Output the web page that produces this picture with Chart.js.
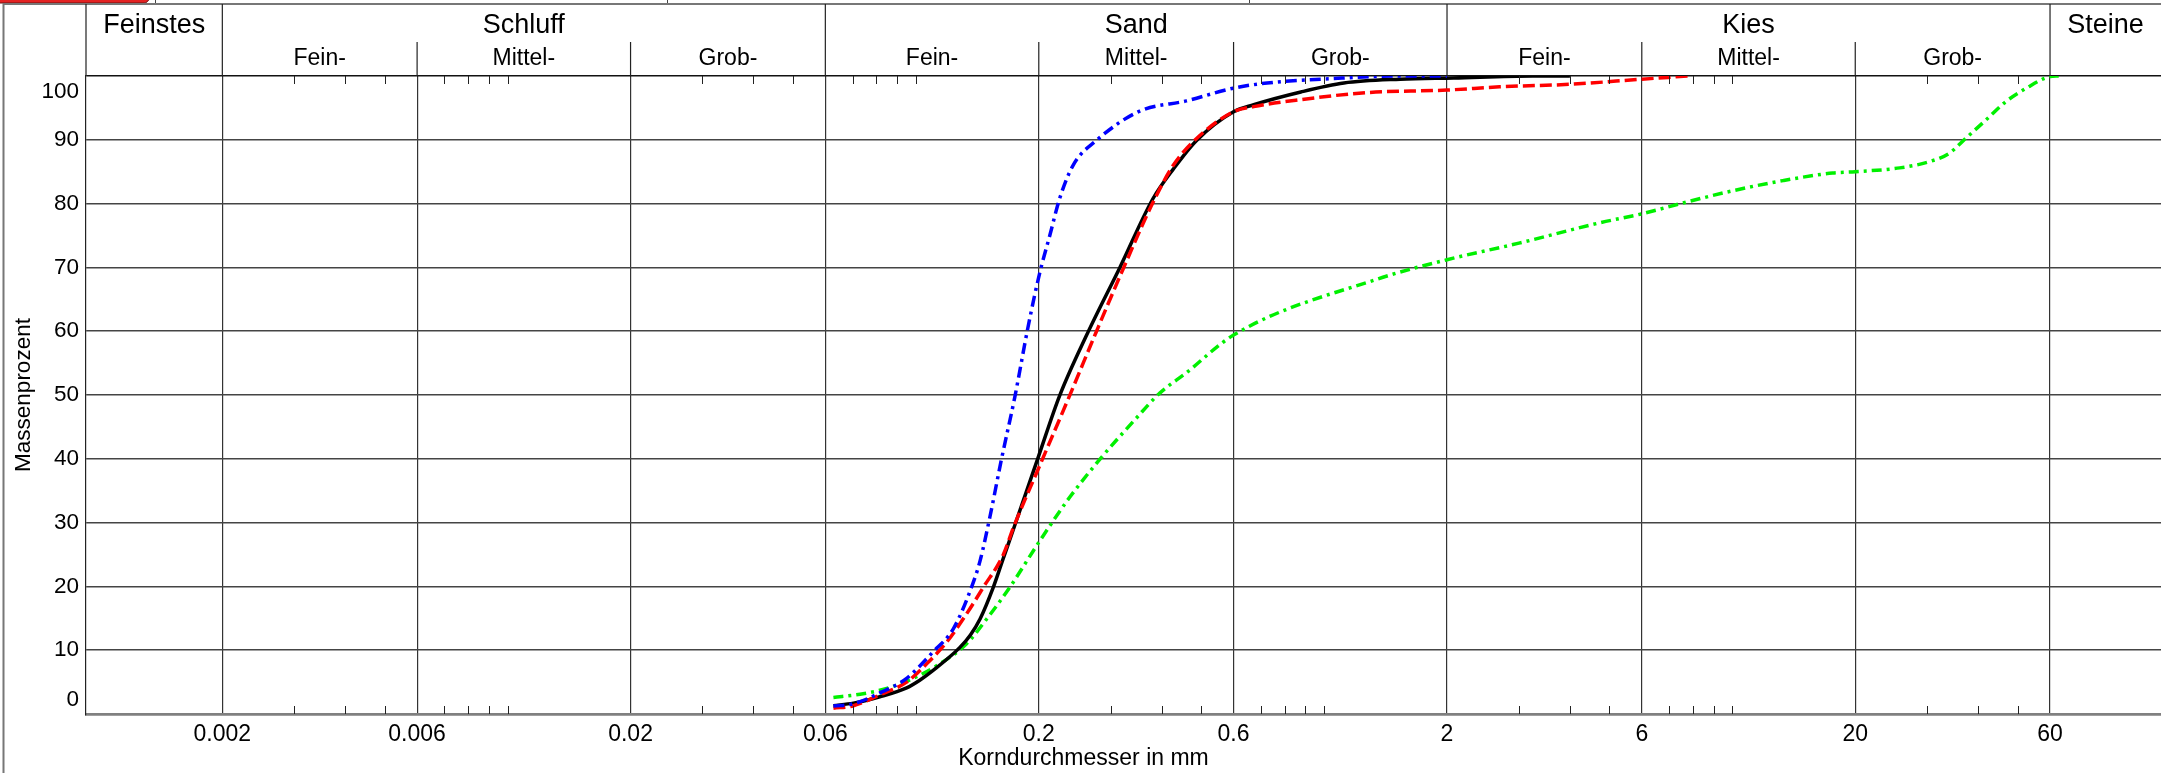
<!DOCTYPE html>
<html>
<head>
<meta charset="utf-8">
<title>Körnungslinie</title>
<script src="https://cdn.jsdelivr.net/npm/chart.js@4.4.0/dist/chart.umd.min.js"></script>
<style>
  html, body { margin: 0; padding: 0; background: #fff; }
  canvas { display: block; }
</style>
</head>
<body>
<canvas id="chart" width="2161" height="773"></canvas>
<script>
// grain size in mm / passing in %
const blackSize = [0.0628, 0.0703, 0.0816, 0.0949, 0.1022, 0.110, 0.128, 0.136, 0.1436, 0.1548, 0.1629, 0.173, 0.2, 0.225, 0.262, 0.316, 0.381, 0.427, 0.487, 0.6, 0.672, 0.877, 1.118, 1.536, 2.076, 3.24, 4.0];
const blackPass = [1.3, 1.7, 2.7, 4.1, 5.3, 6.8, 10.4, 12.4, 14.9, 19.9, 24, 28.8, 40.5, 49.9, 59.4, 70, 80.8, 85.4, 89.9, 94.4, 95.5, 97.5, 98.9, 99.5, 99.7, 100, 100];

const redSize = [0.0628, 0.0703, 0.0816, 0.0949, 0.1064, 0.1191, 0.1331, 0.1464, 0.1635, 0.174, 0.2, 0.238, 0.277, 0.322, 0.381, 0.427, 0.487, 0.6, 0.672, 0.877, 1.274, 2.0, 2.69, 4.0, 6.0, 7.8];
const redPass = [0.9, 1.3, 3.0, 5.0, 7.9, 11.3, 15.7, 19.9, 24.9, 29.5, 38.6, 49.9, 60, 69.8, 80.2, 86, 90.2, 94.4, 95.2, 96.3, 97.4, 97.8, 98.3, 98.7, 99.5, 100];

const blueSize = [0.0628, 0.0703, 0.0816, 0.0949, 0.110, 0.1236, 0.1369, 0.1436, 0.1517, 0.162, 0.1746, 0.1883, 0.201, 0.2128, 0.225, 0.2427, 0.2768, 0.3535, 0.46, 0.6, 0.725, 1.052, 1.536, 2.0];
const bluePass = [1.25, 1.6, 3.3, 5.6, 9.7, 13.4, 19.9, 24, 30.8, 39.9, 49.6, 60.7, 69.1, 75, 80.8, 86, 89.9, 94.5, 96.1, 98.1, 98.9, 99.6, 100, 100];

const greenSize = [0.0628, 0.073, 0.0848, 0.0986, 0.1146, 0.1331, 0.1491, 0.170, 0.2, 0.2383, 0.2821, 0.347, 0.3957, 0.46, 0.6, 1.355, 2.0, 3.0, 4.74, 6, 7.57, 10, 13.3, 17.6, 20, 25.7, 30.5, 34, 37.4, 41.8, 46.8, 52.5, 60, 63];
const greenPass = [2.6, 3.1, 4.0, 5.6, 7.9, 11.0, 14.9, 19.9, 26.9, 34, 39.9, 46.4, 50.3, 53.5, 59.4, 68.2, 71.2, 73.8, 77, 78.4, 80.1, 82, 83.6, 84.8, 85, 85.6, 86.6, 87.9, 90.3, 93.1, 96, 98.1, 99.9, 100];

// axis
const xTicks = [0.002, 0.006, 0.02, 0.06, 0.2, 0.6, 2, 6, 20, 60];
const xTickLabels = ['0.002', '0.006', '0.02', '0.06', '0.2', '0.6', '2', '6', '20', '60'];
const minorTicks = [0.003, 0.004, 0.005, 0.007, 0.008, 0.009, 0.01, 0.03, 0.04, 0.05, 0.07, 0.08, 0.09, 0.1,
                    0.3, 0.4, 0.5, 0.7, 0.8, 0.9, 1, 3, 4, 5, 7, 8, 9, 10, 30, 40, 50];
const yTicks = [0, 10, 20, 30, 40, 50, 60, 70, 80, 90, 100];

// soil classes (DIN 4022)
const mainBounds = [0.002, 0.06, 2, 60];
const subBounds = [0.006, 0.02, 0.2, 0.6, 6, 20];
const groups = ['Schluff', 'Sand', 'Kies'];
const subGroups = ['Fein-', 'Mittel-', 'Grob-'];

const FONT = '"Liberation Sans", Arial, sans-serif';

function pts(xs, ys) {
    return xs.map((x, i) => ({ x: x, y: ys[i] }));
}

const headerPlugin = {
    id: 'header',
    afterDraw(chart) {
        const ctx = chart.ctx;
        const xs = chart.scales.x;
        const ys = chart.scales.y;
        const a = chart.chartArea;
        const top = 4, subTop = 42;
        const px = v => xs.getPixelForValue(v);

        ctx.save();
        // window bits above the frame
        ctx.fillStyle = '#e32222';
        ctx.strokeStyle = '#6a1010';
        ctx.lineWidth = 1;
        ctx.beginPath();
        ctx.roundRect(-6, -12, 155, 15, 5);
        ctx.fill();
        ctx.stroke();
        ctx.strokeStyle = '#444';
        ctx.beginPath();
        [155.5, 667.5, 1249.5].forEach(x => { ctx.moveTo(x, 0); ctx.lineTo(x, top); });
        ctx.stroke();

        // outer frame
        ctx.strokeStyle = '#777';
        ctx.lineWidth = 2;
        ctx.beginPath();
        ctx.moveTo(3.5, chart.height);
        ctx.lineTo(3.5, top);
        ctx.lineTo(chart.width, top);
        ctx.stroke();

        // header grid
        ctx.strokeStyle = '#222';
        ctx.lineWidth = 1.2;
        ctx.beginPath();
        ctx.moveTo(a.left, top);
        ctx.lineTo(a.left, a.top);
        mainBounds.forEach(v => { ctx.moveTo(px(v), top); ctx.lineTo(px(v), a.top); });
        subBounds.forEach(v => { ctx.moveTo(px(v), subTop); ctx.lineTo(px(v), a.top); });
        ctx.stroke();

        // header text
        ctx.fillStyle = '#000';
        ctx.textAlign = 'center';
        ctx.textBaseline = 'alphabetic';
        ctx.font = '27px ' + FONT;
        ctx.fillText('Feinstes', (a.left + px(mainBounds[0])) / 2, 33);
        ctx.fillText('Steine', (px(mainBounds[3]) + a.right) / 2, 33);
        groups.forEach((g, i) => {
            ctx.font = '27px ' + FONT;
            ctx.fillText(g, (px(mainBounds[i]) + px(mainBounds[i + 1])) / 2, 33);
            const edges = [mainBounds[i], subBounds[i * 2], subBounds[i * 2 + 1], mainBounds[i + 1]];
            ctx.font = '23px ' + FONT;
            subGroups.forEach((s, j) => {
                ctx.fillText(s, (px(edges[j]) + px(edges[j + 1])) / 2, 64.5);
            });
        });

        // small log ticks at top and bottom
        ctx.strokeStyle = '#222';
        ctx.lineWidth = 1;
        ctx.beginPath();
        minorTicks.forEach(v => {
            const x = Math.round(px(v)) + 0.5;
            ctx.moveTo(x, a.top);
            ctx.lineTo(x, a.top + 8);
            ctx.moveTo(x, a.bottom);
            ctx.lineTo(x, a.bottom - 8);
        });
        ctx.stroke();

        // 0 and 100 labels sit inside the plot height
        ctx.font = '22.5px ' + FONT;
        ctx.textAlign = 'right';
        ctx.textBaseline = 'middle';
        ctx.fillText('100', a.left - 7, ys.getPixelForValue(100) + 16);
        ctx.fillText('0', a.left - 7, ys.getPixelForValue(0) - 14);

        // x title
        ctx.font = '23px ' + FONT;
        ctx.textAlign = 'center';
        ctx.textBaseline = 'alphabetic';
        ctx.fillText('Korndurchmesser in mm', chart.width / 2 + 3, 765);
        ctx.restore();
    }
};

function renderChart() {
    const ctx = document.getElementById('chart').getContext('2d');
    const line = { pointRadius: 0, borderWidth: 3.5, fill: false, showLine: true,
                   cubicInterpolationMode: 'monotone', borderCapStyle: 'butt' };
    new Chart(ctx, {
        type: 'scatter',
        data: {
            datasets: [
                Object.assign({ data: pts(blueSize, bluePass), borderColor: '#0000ff', borderDash: [11, 5, 3, 5], order: 0 }, line),
                Object.assign({ data: pts(redSize, redPass), borderColor: '#ff0000', borderDash: [12, 5], order: 1 }, line),
                Object.assign({ data: pts(blackSize, blackPass), borderColor: '#000000', order: 2 }, line),
                Object.assign({ data: pts(greenSize, greenPass), borderColor: '#00f000', borderDash: [10, 5, 3, 5], order: 3 }, line)
            ]
        },
        options: {
            responsive: false,
            animation: false,
            layout: { padding: { top: 76, left: 0, right: 0, bottom: 0 } },
            plugins: { legend: { display: false }, tooltip: { enabled: false } },
            scales: {
                x: {
                    type: 'logarithmic',
                    min: 0.000927,
                    max: 112.2,
                    bounds: 'data',
                    afterBuildTicks: s => { s.ticks = xTicks.map(v => ({ value: v })); },
                    afterFit: s => { s.height = 59; },
                    ticks: {
                        autoSkip: false, maxRotation: 0, padding: 7, color: '#000',
                        font: { size: 23, family: FONT },
                        callback: (v, i) => xTickLabels[i]
                    },
                    grid: { drawTicks: false, color: '#333', lineWidth: 1.2 },
                    border: { color: '#808080', width: 2.5 }
                },
                y: {
                    min: 0,
                    max: 100,
                    afterBuildTicks: s => { s.ticks = yTicks.map(v => ({ value: v })); },
                    afterFit: s => { s.width = 86; },
                    ticks: {
                        padding: 7, color: '#000',
                        font: { size: 22.5, family: FONT },
                        callback: v => (v === 0 || v === 100) ? '' : String(v)
                    },
                    grid: {
                        drawTicks: false,
                        color: c => c.tick && c.tick.value === 0 ? '#808080' : (c.tick && c.tick.value === 100 ? '#111' : '#444'),
                        lineWidth: c => c.tick && c.tick.value === 0 ? 2.5 : 1.6
                    },
                    border: { color: '#222', width: 1.2 },
                    title: {
                        display: true, text: 'Massenprozent', color: '#000',
                        font: { size: 22.5, family: FONT },
                        padding: { top: 10, bottom: 0 }
                    }
                }
            }
        },
        plugins: [headerPlugin]
    });
}

window.onload = renderChart;
</script>
</body>
</html>
